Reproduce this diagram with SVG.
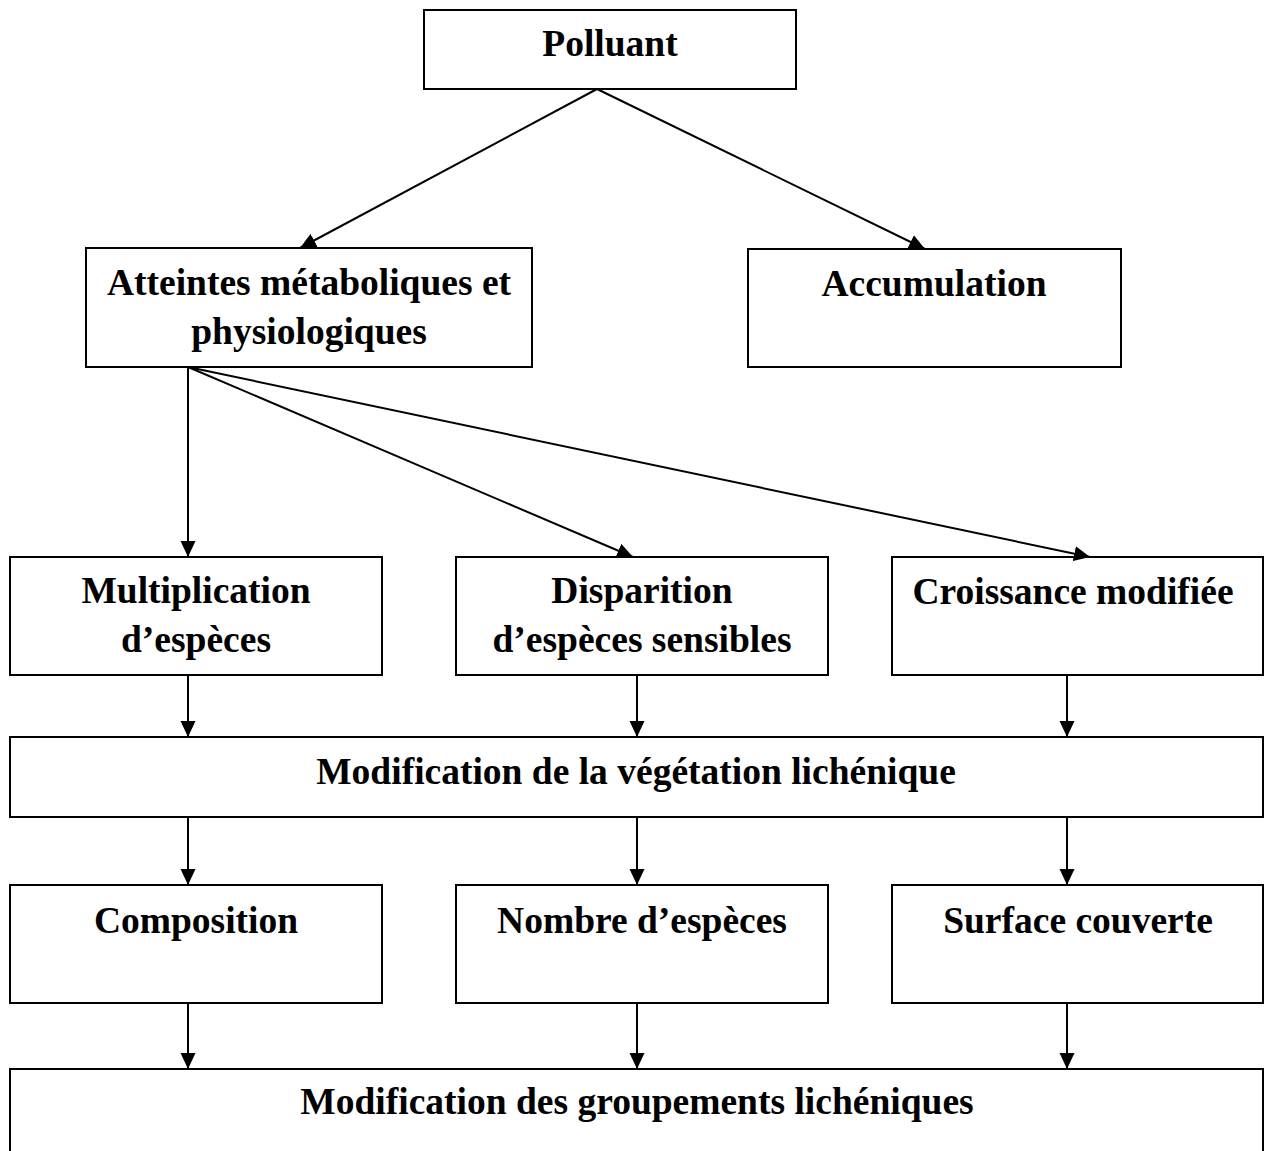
<svg xmlns="http://www.w3.org/2000/svg" width="1264" height="1151" viewBox="0 0 1264 1151">
<style>
.box{fill:#fff;stroke:#000;stroke-width:2}
.t{font-family:"Liberation Serif","Times New Roman",serif;font-weight:bold;font-size:37.5px;fill:#000;text-anchor:middle}
.c{stroke:#000;stroke-width:2;fill:none;marker-end:url(#ah)}
</style>
<defs>
<marker id="ah" markerUnits="userSpaceOnUse" markerWidth="16" markerHeight="16" refX="16" refY="8" orient="auto" viewBox="0 0 16 16">
<path d="M0,0.5 L16,8 L0,15.5 z" fill="#000"/>
</marker>
</defs>
<rect width="1264" height="1151" fill="#fff"/>
<g id="n-polluant"><rect class="box" x="424" y="10" width="372" height="79"/><text class="t" x="610" y="56">Polluant</text></g>
<g id="n-atteintes"><rect class="box" x="86" y="248" width="446" height="119"/><text class="t" x="309" y="295">Atteintes métaboliques et</text><text class="t" x="309" y="344">physiologiques</text></g>
<g id="n-accumulation"><rect class="box" x="748" y="249" width="373" height="118"/><text class="t" x="934" y="296">Accumulation</text></g>
<g id="n-multiplication"><rect class="box" x="10" y="557" width="372" height="118"/><text class="t" x="196" y="603">Multiplication</text><text class="t" x="196" y="652">d’espèces</text></g>
<g id="n-disparition"><rect class="box" x="456" y="557" width="372" height="118"/><text class="t" x="642" y="603">Disparition</text><text class="t" x="642" y="652">d’espèces sensibles</text></g>
<g id="n-croissance"><rect class="box" x="892" y="557" width="371" height="118"/><text class="t" x="1073" y="604">Croissance modifiée</text></g>
<g id="n-vegetation"><rect class="box" x="10" y="737" width="1253" height="80"/><text class="t" x="636" y="784">Modification de la végétation lichénique</text></g>
<g id="n-composition"><rect class="box" x="10" y="885" width="372" height="118"/><text class="t" x="196" y="933">Composition</text></g>
<g id="n-nombre"><rect class="box" x="456" y="885" width="372" height="118"/><text class="t" x="642" y="933">Nombre d’espèces</text></g>
<g id="n-surface"><rect class="box" x="892" y="885" width="371" height="118"/><text class="t" x="1078" y="933">Surface couverte</text></g>
<g id="n-groupements"><rect class="box" x="10" y="1069" width="1253" height="100"/><text class="t" x="637" y="1114">Modification des groupements lichéniques</text></g>
<g id="connectors">
<line class="c" x1="597" y1="89" x2="300" y2="248"/>
<line class="c" x1="597" y1="89" x2="925" y2="249"/>
<line class="c" x1="188" y1="367" x2="188" y2="557"/>
<line class="c" x1="188" y1="367" x2="633" y2="557"/>
<line class="c" x1="188" y1="367" x2="1090" y2="557"/>
<line class="c" x1="188" y1="675" x2="188" y2="737"/>
<line class="c" x1="637" y1="675" x2="637" y2="737"/>
<line class="c" x1="1067" y1="675" x2="1067" y2="737"/>
<line class="c" x1="188" y1="817" x2="188" y2="885"/>
<line class="c" x1="637" y1="817" x2="637" y2="885"/>
<line class="c" x1="1067" y1="817" x2="1067" y2="885"/>
<line class="c" x1="188" y1="1003" x2="188" y2="1069"/>
<line class="c" x1="637" y1="1003" x2="637" y2="1069"/>
<line class="c" x1="1067" y1="1003" x2="1067" y2="1069"/>
</g>
</svg>
